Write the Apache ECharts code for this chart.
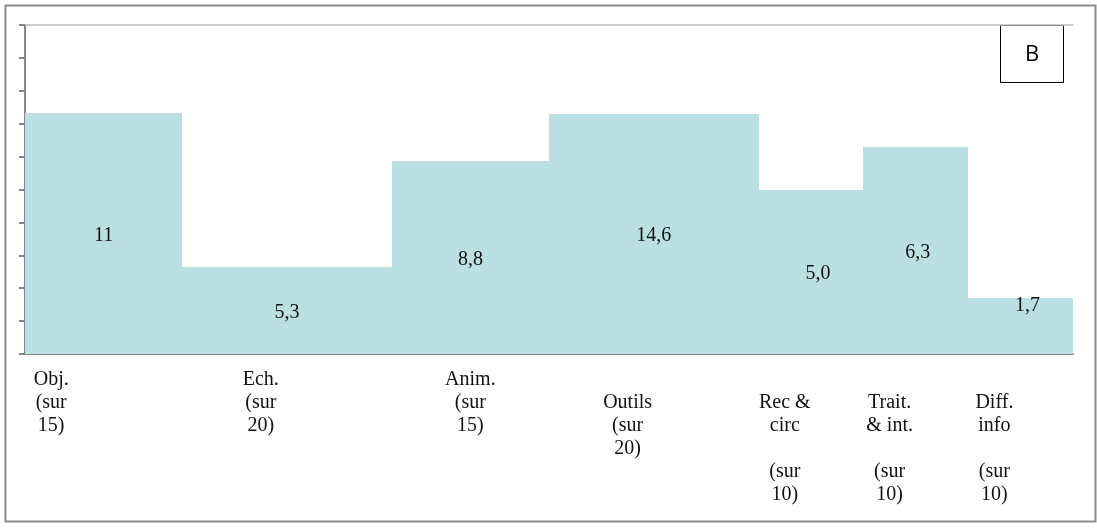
<!DOCTYPE html>
<html>
<head>
<meta charset="utf-8">
<script src="https://cdn.jsdelivr.net/npm/echarts@6/dist/echarts.min.js"></script>
<style>
  html, body { margin: 0; padding: 0; background: #fff; }
  #chart { width: 1097px; height: 529px; }
</style>
</head>
<body>
<div id="chart"></div>
<script>
// Scores per domain, with the maximum reachable score of each domain
const categories = [
  'Obj.\n(sur\n15)',
  'Ech.\n(sur\n20)',
  'Anim.\n(sur\n15)',
  '\nOutils\n(sur\n20)',
  '\nRec &\ncirc\n\n(sur\n10)',
  '\nTrait.\n& int.\n\n(sur\n10)',
  '\nDiff.\ninfo\n\n(sur\n10)'
];
const scores   = [11, 5.3, 8.8, 14.6, 5.0, 6.3, 1.7];
const outOf    = [15, 20, 15, 20, 10, 10, 10];
const decimals = [0, 1, 1, 1, 1, 1, 1];
// x-axis positions (in % of total width) where each category name sits
const catLabelAt = [2.5, 22.5, 42.5, 57.5, 72.5, 82.5, 92.5];

// Hand-placed value labels (pixel nudges from the bar centre)
const labelNudge = { 4: [7, 0], 5: [2, 0], 6: [7, -22] };

// Each bar: width = maximum score, height = score as % of that maximum
const total = outOf.reduce((a, b) => a + b, 0);
let acc = 0;
const bars = scores.map((s, i) => {
  const start = acc / total * 100;
  acc += outOf[i];
  const end = acc / total * 100;
  return [start, end, s / outOf[i] * 100, s, i];
});

function fmt(v, d) {
  return v.toFixed(d).replace('.', ',');
}

function renderItem(params, api) {
  const i = params.dataIndex;
  const x0 = api.value(0), x1 = api.value(1), h = api.value(2);
  const pBase = api.coord([x0, 0]);
  const pTop = api.coord([x1, h]);
  const mid = api.coord([(x0 + x1) / 2, h / 2]);
  const n = labelNudge[i] || [0, 0];
  const left = Math.round(pBase[0]);
  const right = Math.round(pTop[0]);
  const top = Math.round(pTop[1]);
  const bottom = Math.round(pBase[1]);
  return {
    type: 'group',
    children: [
      {
        type: 'rect',
        shape: { x: left, y: top, width: right - left, height: bottom - top },
        style: { fill: '#BBE0E3' }
      },
      {
        type: 'text',
        x: mid[0] + n[0],
        y: mid[1] + n[1] + 2,
        style: {
          text: fmt(scores[i], decimals[i]),
          font: '20px "Liberation Serif"',
          fill: '#111',
          align: 'center',
          verticalAlign: 'middle'
        }
      }
    ]
  };
}

const chart = echarts.init(document.getElementById('chart'), null, { renderer: 'canvas' });

chart.setOption({
  backgroundColor: '#fff',
  animation: false,
  grid: { left: 25, right: 24, top: 25, bottom: 175 },
  xAxis: [
    {
      type: 'value',
      min: 0,
      max: 100,
      interval: 2.5,
      axisLine: { show: true, onZero: false, lineStyle: { color: '#868686', width: 2 } },
      axisTick: { show: false },
      splitLine: { show: false },
      axisLabel: {
        show: true,
        margin: 14,
        verticalAlign: 'top',
        align: 'center',
        lineHeight: 23,
        fontFamily: 'Liberation Serif',
        fontSize: 20,
        color: '#111',
        formatter: function (v) {
          for (let k = 0; k < catLabelAt.length; k++) {
            if (Math.abs(v - catLabelAt[k]) < 1e-6) return categories[k];
          }
          return '';
        }
      }
    },
    {
      type: 'value',
      position: 'top',
      min: 0,
      max: 100,
      axisLine: { show: true, onZero: false, lineStyle: { color: '#BDBDBD', width: 1.5 } },
      axisTick: { show: false },
      axisLabel: { show: false },
      splitLine: { show: false }
    }
  ],
  yAxis: {
    type: 'value',
    min: 0,
    max: 100,
    interval: 10,
    axisLine: { show: true, onZero: false, lineStyle: { color: '#868686', width: 2 } },
    axisTick: { show: true, length: 6, lineStyle: { color: '#868686', width: 2 } },
    axisLabel: { show: false },
    splitLine: { show: false }
  },
  series: [
    {
      type: 'custom',
      xAxisIndex: 0,
      renderItem: renderItem,
      encode: { x: [0, 1], y: 2 },
      data: bars,
      z: 1
    }
  ],
  graphic: [
    {
      type: 'rect',
      left: 3, top: 3,
      shape: { width: 1090, height: 516 },
      style: { fill: 'none', stroke: '#8C8C8C', lineWidth: 2 },
      silent: true
    },
    {
      type: 'group',
      left: 1000, top: 25,
      children: [
        {
          type: 'rect',
          shape: { x: 0.5, y: 0.5, width: 63, height: 57 },
          style: { fill: '#fff', stroke: '#000', lineWidth: 1 }
        },
        {
          type: 'text',
          x: 32, y: 30,
          style: {
            text: 'B',
            font: '22px "Open Sans"',
            fill: '#000',
            align: 'center',
            verticalAlign: 'middle'
          }
        }
      ]
    }
  ]
});
</script>
</body>
</html>
